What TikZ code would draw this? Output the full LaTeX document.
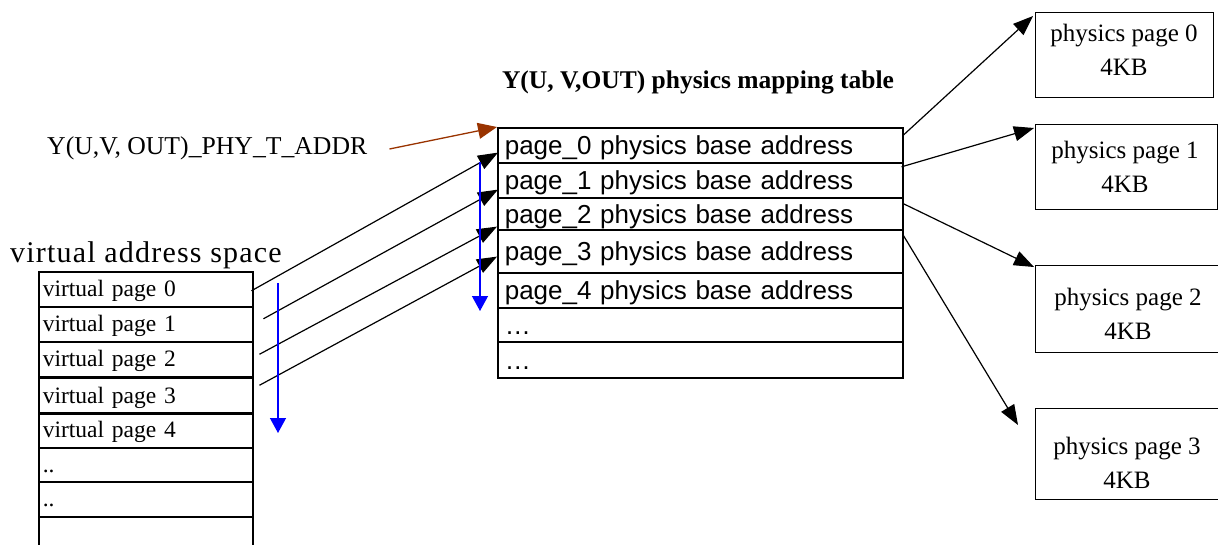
\documentclass[tikz,border=0pt]{standalone}
\usepackage{fontspec}
\setmainfont{Liberation Serif}
\setsansfont{Liberation Sans}
\usetikzlibrary{arrows.meta,calc}
\definecolor{brownarr}{RGB}{153,51,0}
\definecolor{bluearr}{RGB}{0,0,255}
\begin{document}
\begin{tikzpicture}[x=1pt,y=-1pt,
  vrow/.style={draw, line width=1.5pt, minimum width=214pt, text width=206pt, inner xsep=4pt, inner ysep=0pt, text height=17pt, text depth=2pt, align=left, anchor=north west, font=\fontsize{23.5}{24}\selectfont},
  mrow/.style={draw, line width=1.6pt, minimum width=405pt, text width=391pt, inner xsep=7pt, inner ysep=0pt, text height=20pt, text depth=1pt, align=left, anchor=north west, font=\sffamily\fontsize{26}{27}\selectfont},
  pbox/.style={draw, line width=1.2pt, anchor=north west, minimum width=178pt, inner sep=0pt},
  ptext/.style={align=center, font=\fontsize{25}{34}\selectfont, inner sep=0pt},
  conn/.style={draw, line width=1.2pt, -{Triangle[length=20pt,width=15pt]}},
  blue arrow/.style={draw=bluearr, line width=1.3pt, -{Triangle[length=15pt,width=16pt]}, bluearr},
  label text/.style={inner sep=0pt}]
\useasboundingbox (0,0) rectangle (1218,544);

% labels
\node[label text, anchor=west, font=\fontsize{30}{31}\selectfont\addfontfeature{LetterSpace=4}] (vas) at (10,255) {virtual address space};
\node[label text, anchor=west, font=\fontsize{25.7}{26}\selectfont] (addr) at (47,148) {Y(U,V, OUT)\_PHY\_T\_ADDR};
\node[label text, font=\bfseries\fontsize{25.5}{26}\selectfont] (title) at (698,82) {Y(U, V,OUT) physics mapping table};

% virtual address space table
\node[vrow, minimum height=35pt] (v0) at (38,271) {virtual page 0};
\node[vrow, minimum height=35pt] (v1) at (38,306) {virtual page 1};
\node[vrow, minimum height=35pt] (v2) at (38,341) {virtual page 2};
\node[vrow, minimum height=36pt] (v3) at (38,377) {virtual page 3};
\node[vrow, minimum height=35pt] (v4) at (38,412) {virtual page 4};
\node[vrow, minimum height=34pt] (v5) at (38,447) {..};
\node[vrow, minimum height=35pt] (v6) at (38,481) {..};
\node[vrow, minimum height=40pt] (v7) at (38,516) {};

% mapping table
\node[mrow, minimum height=35pt] (m0) at (497,127) {page\_0 physics base address};
\node[mrow, minimum height=35pt] (m1) at (497,162) {page\_1 physics base address};
\node[mrow, minimum height=32pt] (m2) at (497,197) {page\_2 physics base address};
\node[mrow, minimum height=43pt] (m3) at (497,229) {page\_3 physics base address};
\node[mrow, minimum height=35pt] (m4) at (497,272) {page\_4 physics base address};
\node[mrow, minimum height=34pt] (m5) at (497,307) {…};
\node[mrow, minimum height=36pt] (m6) at (497,341) {…};

% physics pages
\node[pbox, minimum height=85pt] (p0) at (1035,12) {};
\node[pbox, minimum height=85pt, minimum width=182pt] (p1) at (1035,124) {};
\node[pbox, minimum height=87pt, minimum width=190pt] (p2) at (1035,265) {};
\node[pbox, minimum height=91pt, minimum width=190pt] (p3) at (1035,408) {};
\node[ptext] (t0) at (1124,50) {physics page 0\\4KB};
\node[ptext] (t1) at (1125,167) {physics page 1\\4KB};
\node[ptext] (t2) at (1128,314) {physics page 2\\4KB};
\node[ptext] (t3) at (1127,463) {physics page 3\\4KB};

% brown arrow
\draw[draw=brownarr, line width=1.3pt, -{Triangle[length=19pt,width=16pt]}, brownarr] (addr.east) ++(22,1) -- (m0.north west);

% virtual -> mapping
\draw[conn] ($(v0.east)+(-2,1.5)$) -- ($(m0.south west)+(1,-11)$);
\draw[conn] ($(v1.east)+(10,-5.5)$) -- ($(m1.south west)+(1,-9)$);
\draw[conn] ($(v2.east)+(6,-5)$) -- ($(m2.south west)+(0,-4)$);
\draw[conn] ($(v3.east)+(6,-10.5)$) -- ($(m3.south west)+(0,-17)$);

% mapping -> physics
\draw[conn] ($(m0.east)+(-1,-9.5)$) -- ($(p0.north west)+(-2,4)$);
\draw[conn] ($(m1.east)+(-2,-13.5)$) -- ($(p1.north west)+(-1,4)$);
\draw[conn] ($(m2.east)+(0,-10)$) -- ($(p2.north west)+(-1,2)$);
\draw[conn] ($(m3.east)+(0,-15.5)$) -- ($(p3.north west)+(-17,17)$);

% blue direction arrows
\coordinate (b0s) at (278,283);
\coordinate (b0e) at (278,433);
\coordinate (b1s) at (480,162);
\coordinate (b1e) at (480,311);
\draw[blue arrow] (b0s) -- (b0e);
\draw[blue arrow] (b1s) -- (b1e);
\end{tikzpicture}
\end{document}
